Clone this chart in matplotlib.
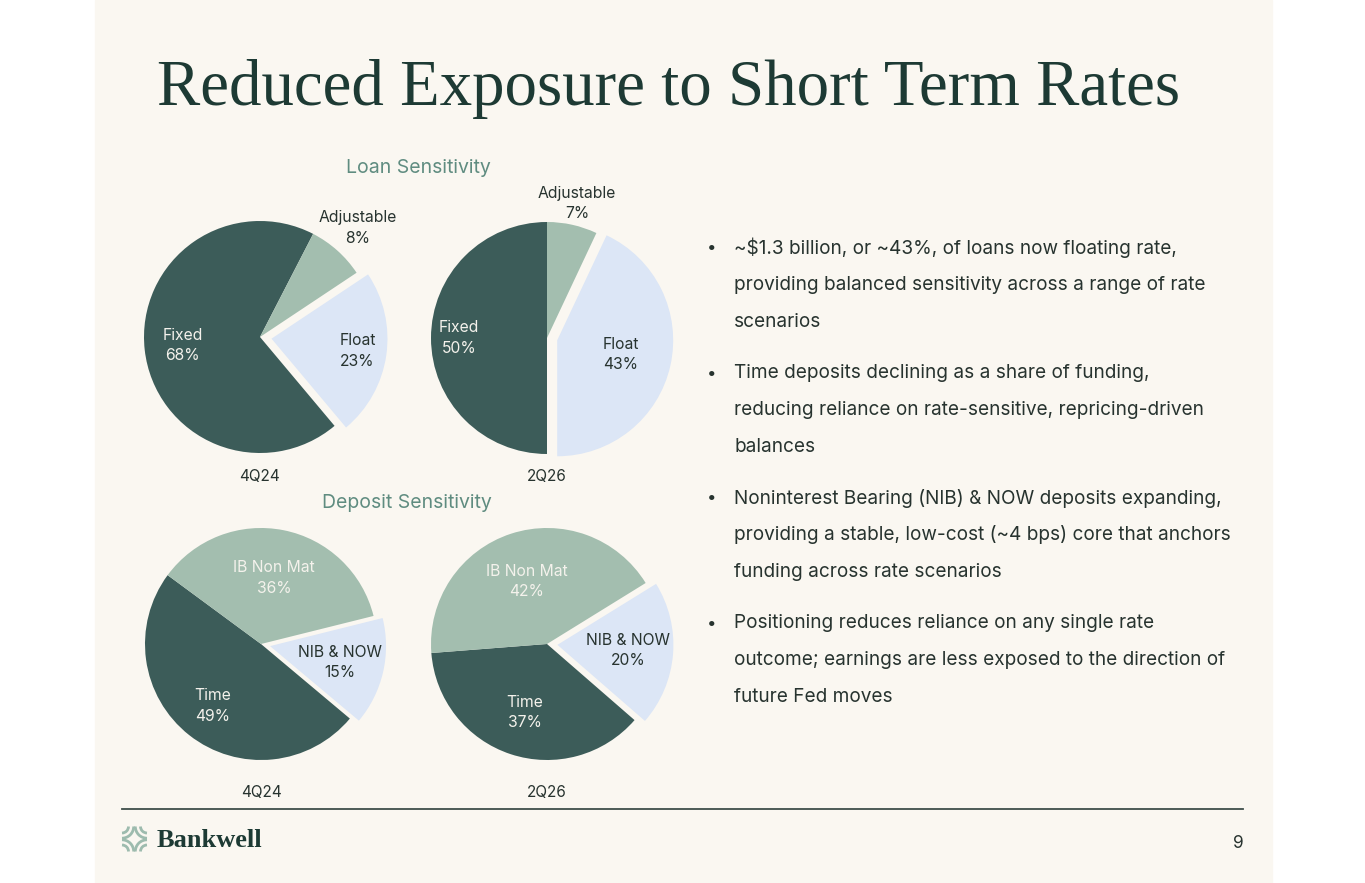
import matplotlib
matplotlib.use("Agg")
import matplotlib.pyplot as plt
from matplotlib.patches import Rectangle, Arc
import numpy as np

plt.rcParams['font.family'] = ['Inter', 'DejaVu Sans']

W, H = 1365, 883

# colours
BG = '#FAF7F1'
DARK = '#3C5C59'
SAGE = '#A3BEAF'
LIGHT = '#DCE6F6'
TITLE = '#1D3A34'
SUB = '#5F8C80'
TXT = '#27332F'
WHITE = '#F4F2EC'

# data
periods = ['4Q24', '2Q26']
loan_labels = ['Fixed', 'Adjustable', 'Float']
loan_4q24 = [68, 8, 23]
loan_2q26 = [50, 7, 43]
dep_labels = ['Time', 'IB Non Mat', 'NIB & NOW']
dep_4q24 = [49, 36, 15]
dep_2q26 = [37, 42, 20]

bullets = [
    ["~$1.3 billion, or ~43%, of loans now floating rate,",
     "providing balanced sensitivity across a range of rate",
     "scenarios"],
    ["Time deposits declining as a share of funding,",
     "reducing reliance on rate-sensitive, repricing-driven",
     "balances"],
    ["Noninterest Bearing (NIB) & NOW deposits expanding,",
     "providing a stable, low-cost (~4 bps) core that anchors",
     "funding across rate scenarios"],
    ["Positioning reduces reliance on any single rate",
     "outcome; earnings are less exposed to the direction of",
     "future Fed moves"],
]

fig = plt.figure(figsize=(W / 100, H / 100), dpi=100)
fig.patch.set_facecolor('white')

# page overlay in pixel coordinates
ax0 = fig.add_axes([0, 0, 1, 1])
ax0.set_xlim(0, W)
ax0.set_ylim(H, 0)
ax0.axis('off')
ax0.add_patch(Rectangle((95, 0), 1177, H, color=BG, zorder=0))

ax0.text(157, 105, "Reduced Exposure to Short Term Rates", family='Liberation Serif',
         fontsize=46.7, color=TITLE, ha='left', va='baseline')

ax0.text(418, 168, "Loan Sensitivity", fontsize=14, color=SUB, ha='center', va='center')
ax0.text(407, 503, "Deposit Sensitivity", fontsize=14, color=SUB, ha='center', va='center')

R_PX = 116


def draw_pie(cx, cy, values, labels, start, explode, dists, txt_cols, period, py):
    half = 170
    ax = fig.add_axes([(cx - half) / W, 1 - (cy + half) / H, 2 * half / W, 2 * half / H])
    wedges, _ = ax.pie(values, colors=[DARK, SAGE, LIGHT], startangle=start,
                       counterclock=False, explode=explode, radius=1,
                       wedgeprops=dict(linewidth=0))
    lim = half / R_PX
    ax.set_xlim(-lim, lim)
    ax.set_ylim(-lim, lim)
    ax.axis('off')
    for w, lab, v, d, c in zip(wedges, labels, values, dists, txt_cols):
        mid = np.deg2rad((w.theta1 + w.theta2) / 2)
        x = w.center[0] + d * np.cos(mid)
        y = w.center[1] + d * np.sin(mid)
        ax.text(x, y, f"{lab}\n{v}%", ha='center', va='center', fontsize=11.3,
                color=c, linespacing=1.45)
    ax0.text(cx, py, period, fontsize=11, color=TXT, ha='center', va='center')


draw_pie(260, 337, loan_4q24, loan_labels, -50, [0, 0, 0.1],
         [0.67, 1.26, 0.75], [WHITE, TXT, TXT], periods[0], 476)
draw_pie(547, 338, loan_2q26, loan_labels, -90, [0, 0, 0.09],
         [0.76, 1.19, 0.56], [WHITE, TXT, TXT], periods[1], 476)
draw_pie(261, 644, dep_4q24, dep_labels, -40, [0, 0, 0.08],
         [0.68, 0.58, 0.62], [WHITE, WHITE, TXT], periods[0], 792)
draw_pie(547, 644, dep_2q26, dep_labels, -41, [0, 0, 0.09],
         [0.62, 0.565, 0.61], [WHITE, WHITE, TXT], periods[1], 792)

# bullets
y = 248
for para in bullets:
    ax0.text(712, y, "•", fontsize=12, color=TXT, ha='center', va='center')
    for line in para:
        ax0.text(734, y, line, fontsize=13.7, color=TXT, ha='left', va='center')
        y += 37
    y += 14

# footer
ax0.plot([122, 1243], [809, 809], color='#3E4E4A', lw=1.3)
ax0.text(1244, 843, "9", fontsize=12.5, color=TXT, ha='right', va='center')

# logo mark
lcx, lcy, s = 134.5, 839, 12.5
for sx in (-1, 1):
    for sy in (-1, 1):
        ang = np.degrees(np.arctan2(-sy, -sx))
        for rad in (6.5, 11.7):
            ax0.add_patch(Arc((lcx + sx * s, lcy + sy * s), 2 * rad, 2 * rad,
                              theta1=ang - 45, theta2=ang + 45, color='#9DBBAE', lw=2.0))
ax0.text(157, 847, "Bankwell", family='Liberation Serif', fontweight='bold',
         fontsize=19, color=TITLE, ha='left', va='baseline')

fig.savefig("out.png", dpi=100, facecolor=fig.get_facecolor())
